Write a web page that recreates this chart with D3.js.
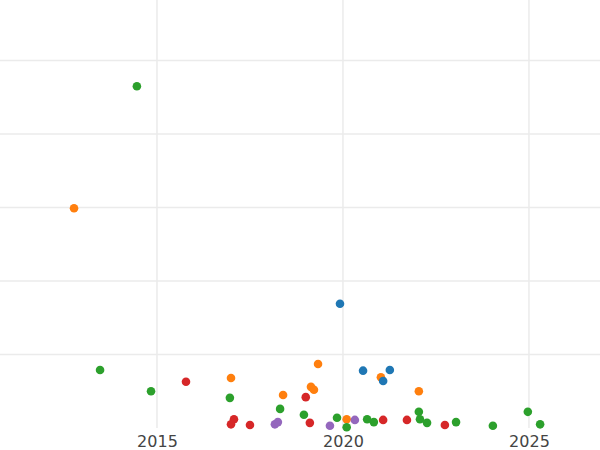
<!DOCTYPE html>
<html>
<head>
<script src="https://d3js.org/d3.v7.min.js"></script>
<style>body{margin:0;background:#fff}</style>
</head>
<body>
<div id="chart"></div>
<script>
const width = 600, height = 450;
const xTicks = [2015, 2020, 2025];
const yGrid = [1, 2, 3, 4, 5];
const groups = ["blue", "orange", "green", "red", "purple"];
const groupColors = ["#1f77b4", "#ff7f0e", "#2ca02c", "#d62728", "#9467bd"];

// year, value, group
const years = [2014.46, 2012.77, 2019.92, 2013.47, 2014.84, 2015.78, 2016.99, 2016.96, 2017.07, 2016.99,
  2017.5, 2018.39, 2018.31, 2018.17, 2018.25, 2018.95, 2019.0, 2019.33, 2019.14, 2019.22,
  2019.11, 2019.65, 2019.84, 2020.1, 2020.1, 2020.32, 2020.54, 2020.65, 2020.83, 2021.08,
  2021.02, 2021.08, 2021.26, 2021.72, 2022.04, 2022.04, 2022.07, 2022.26, 2022.74, 2023.04,
  2024.03, 2024.97, 2025.3];
const values = [4.65, 2.99, 1.69, 0.79, 0.50, 0.63, 0.68, 0.41, 0.12, 0.05,
  0.04, 0.45, 0.26, 0.05, 0.08, 0.18, 0.42, 0.87, 0.56, 0.52,
  0.07, 0.03, 0.14, 0.12, 0.01, 0.11, 0.78, 0.12, 0.08, 0.11,
  0.69, 0.64, 0.79, 0.11, 0.50, 0.22, 0.12, 0.07, 0.04, 0.08,
  0.03, 0.22, 0.05];
const series = ["green", "orange", "blue", "green", "green", "red", "orange", "green", "red", "red",
  "red", "orange", "green", "purple", "purple", "green", "red", "orange", "orange", "orange",
  "red", "purple", "green", "orange", "green", "purple", "blue", "green", "green", "red",
  "orange", "blue", "blue", "red", "orange", "green", "green", "green", "red", "green",
  "green", "green", "green"];

const svg = d3.select("#chart").append("svg")
  .attr("width", width).attr("height", height);

const x = d3.scaleLinear().domain([2010.78, 2026.91]).range([0, width]);
const y = d3.scaleLinear().domain([0, 5.81]).range([428, 1]);
const color = d3.scaleOrdinal().domain(groups).range(groupColors);

// grid
svg.append("g").selectAll("line").data(xTicks).enter().append("line")
  .attr("x1", d => x(d)).attr("x2", d => x(d)).attr("y1", 0).attr("y2", 428)
  .attr("stroke", "#ebebeb").attr("stroke-width", 1.5);
svg.append("g").selectAll("line").data(yGrid).enter().append("line")
  .attr("x1", 0).attr("x2", width).attr("y1", d => y(d)).attr("y2", d => y(d))
  .attr("stroke", "#ebebeb").attr("stroke-width", 1.5);

// x axis labels
const ax = svg.append("g").attr("transform", "translate(0,428)")
  .call(d3.axisBottom(x).tickValues(xTicks).tickFormat(d3.format("d")).tickSize(0).tickPadding(8));
ax.select(".domain").remove();
ax.selectAll("text").attr("font-family", "DejaVu Sans").attr("font-size", 16).attr("fill", "#444");

// points
svg.append("g").selectAll("circle").data(years).enter().append("circle")
  .attr("cx", d => x(d))
  .attr("cy", (d, i) => y(values[i]))
  .attr("r", 4.3)
  .attr("fill", (d, i) => color(series[i]));
</script>
</body>
</html>
